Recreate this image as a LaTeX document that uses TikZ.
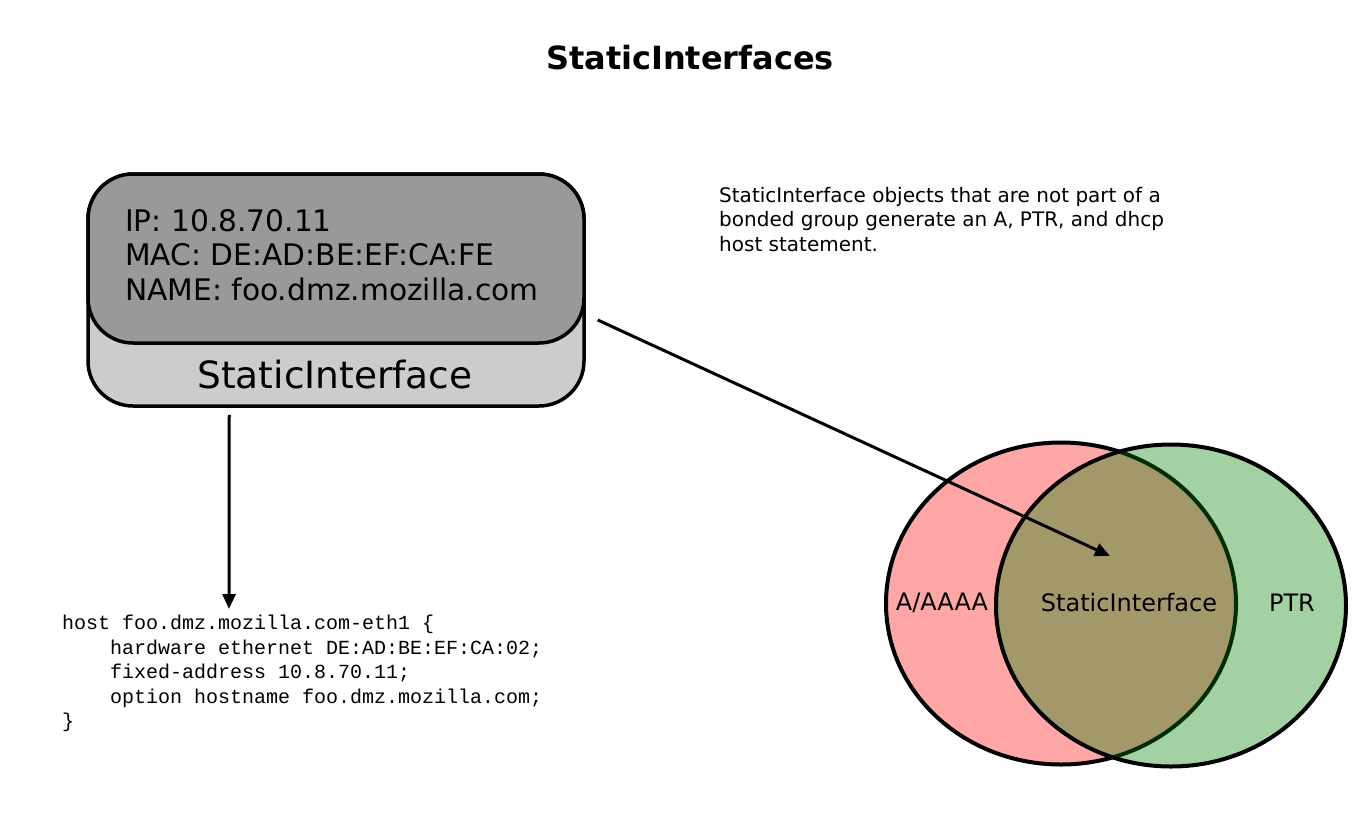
\documentclass[tikz,border=0pt]{standalone}
\usepackage{fontspec}
\setmainfont{DejaVu Sans}
\newfontfamily\codefont{Liberation Mono}
\usetikzlibrary{arrows.meta,shapes.geometric}

\definecolor{boxlight}{HTML}{CCCCCC}
\definecolor{boxdark}{HTML}{999999}
\definecolor{ptrgreen}{HTML}{008000}

\tikzset{
  arr/.style={line width=3pt,-{Triangle[length=15pt,width=13pt]}},
  objbox/.style={draw,line width=3.5pt,rounded corners=45,minimum width=496},
  setshape/.style={ellipse,draw,line width=4pt,minimum width=350,minimum height=322,text opacity=1},
}

\begin{document}
\begin{tikzpicture}[x=1pt,y=-1pt]
\useasboundingbox (0,0) rectangle (1363,828);

\node[font=\fontsize{32}{38}\selectfont\bfseries] (title) at (690,58) {StaticInterfaces};

% the object
\node[objbox,fill=boxlight,minimum height=232] (box) at (336,290) {};
\node[objbox,fill=boxdark,minimum height=169] (fields) at (336,258.5) {};
\node[anchor=north west,align=left,inner sep=0,font=\fontsize{29.7}{34.5}\selectfont] (fieldtext) at (125,209)
  {IP: 10.8.70.11\\MAC: DE:AD:BE:EF:CA:FE\\NAME: foo.dmz.mozilla.com};
\node[font=\fontsize{37.5}{42}\selectfont] (boxname) at (335,375) {StaticInterface};

\node[anchor=north west,align=left,inner sep=0,font=\fontsize{20}{24.5}\selectfont] (note) at (719,187)
  {StaticInterface objects that are not part of a\\bonded group generate an A, PTR, and dhcp\\host statement.};

% dhcp output
\node[anchor=north west,align=left,inner sep=0,font=\codefont\fontsize{20}{24.5}\selectfont] (code) at (62,615)
  {host foo.dmz.mozilla.com-eth1 \{\\
\hspace*{48pt}hardware ethernet DE:AD:BE:EF:CA:02;\\
\hspace*{48pt}fixed-address 10.8.70.11;\\
\hspace*{48pt}option hostname foo.dmz.mozilla.com;\\
\}};

% venn
\node[setshape,fill=red,fill opacity=0.35] (aset) at (1061,603.5) {};
\node[setshape,fill=ptrgreen,fill opacity=0.36] (ptrset) at (1171,605.5) {};
\node[font=\fontsize{24}{28}\selectfont] (alabel) at (942,603) {A/AAAA};
\node[font=\fontsize{24}{28}\selectfont] (both) at (1129,603) {StaticInterface};
\node[font=\fontsize{24}{28}\selectfont] (ptrlabel) at (1292,603) {PTR};

\draw[arr] ([shift={(143,7)}]box.south west) -- ([shift={(167,-6)}]code.north west);
\draw[arr] ([shift={(12,30)}]box.east) -- ([shift={(-19,-47)}]both.center);

\end{tikzpicture}
\end{document}
